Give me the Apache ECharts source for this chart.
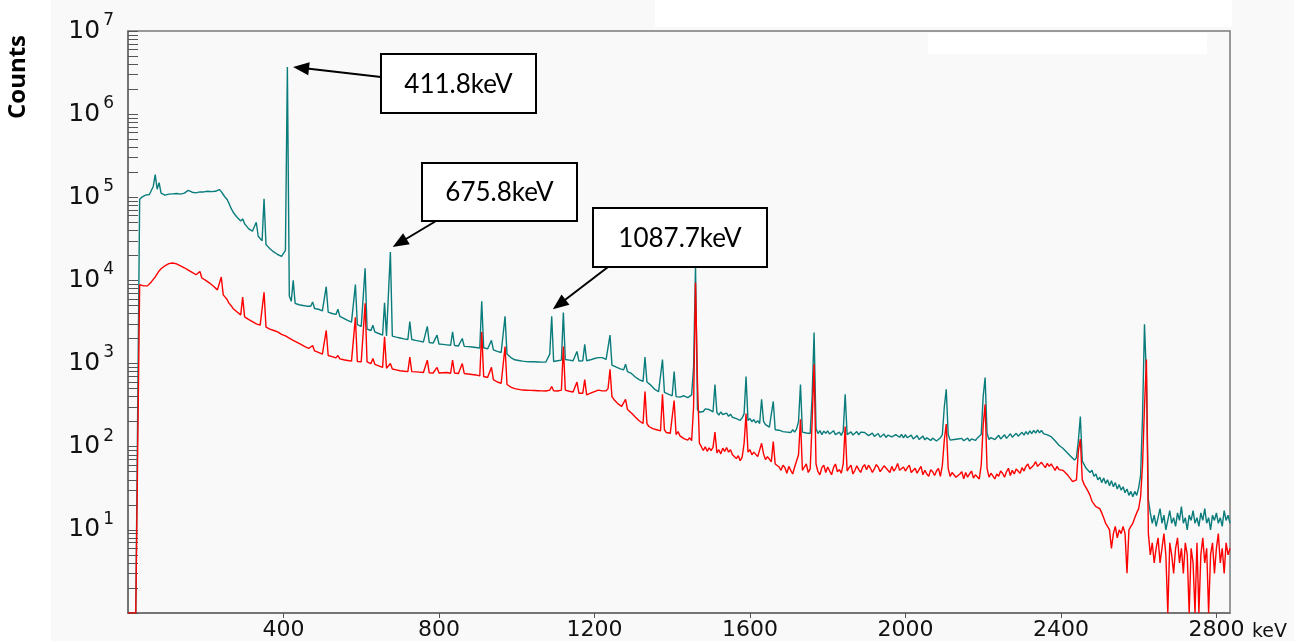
<!DOCTYPE html>
<html><head><meta charset="utf-8">
<script src="https://cdn.jsdelivr.net/npm/echarts@6/dist/echarts.min.js"></script>
<style>html,body{margin:0;padding:0;background:#fff}#c{width:1294px;height:641px}</style>
</head><body><div id="c"></div>
<script>
// Energy grid: channels every 5 keV starting at 0 keV
const keVStep = 5;
// Upper (teal) spectrum counts, one value per 5 keV channel (0 .. 2835 keV)
const tealCounts = [
1,1,1,1,1,1,94000,100000,104000,106000,107000,108000,112000,135000,187000,125000,150000,112000,107000,106000,
108000,109000,107000,110000,109000,111000,110000,109000,111000,112000,114000,121000,123000,115000,112000,113000,115000,116000,117000,116000,
118000,118000,119000,117000,117000,118000,121000,124000,117000,108000,100000,94000,84000,74000,67000,62000,58000,55000,52000,55000,
48000,45000,42000,41000,39000,40000,50000,34000,32000,30000,96000,27000,25500,24000,23000,22000,21000,20500,20000,19500,
19400,23000,3700000,6500,5600,10000,5300,5200,5100,5100,5000,4950,4900,4800,4900,5500,4600,4550,4500,4400,
4300,4250,8400,4150,4100,4000,3950,3900,4500,3700,3600,3500,3400,3300,3250,3150,3050,8900,2950,2850,
2800,2750,14000,2600,2550,2500,2900,2400,2350,2300,2250,2200,5400,2150,2150,22000,2140,2100,2080,2050,
2030,2000,1980,1960,1950,3200,1950,1930,1900,1880,1860,1840,1820,1800,2800,1790,1780,1760,1740,2200,
1720,1710,1700,1690,1680,1670,1660,2400,1650,1640,1630,1620,2000,1610,1600,1600,1590,1580,1570,1560,
1550,1540,5600,1550,1520,1500,1480,1900,1460,1420,1400,1380,1360,1340,3700,1300,1250,1180,1130,1110,
1100,1090,1080,1070,1060,1055,1050,1050,1045,1050,1040,1045,1050,1040,1050,1045,1050,1300,3700,1060,
1070,1080,1090,1100,4100,1120,1110,1100,1090,1080,1080,1400,1070,1060,1080,1700,1080,1090,1110,1130,
1150,1160,1180,1200,1180,1150,1120,1150,2200,960,940,910,890,870,860,840,980,800,780,760,
720,690,660,640,620,610,1200,600,580,550,520,490,470,460,455,1120,450,440,430,420,
410,800,400,415,395,398,410,400,390,405,420,900,14700,280,260,270,265,285,275,280,
280,262,560,258,240,262,244,236,254,232,246,226,236,218,226,208,222,250,700,206,
218,200,212,194,206,190,372,202,184,190,172,180,350,160,168,158,164,152,160,150,
158,148,160,150,164,200,560,150,158,146,154,144,400,2360,166,144,156,140,154,145,
155,142,149,156,140,146,150,137,154,428,140,146,151,138,144,152,139,150,144,148,
150,136,141,146,133,131,144,130,137,142,129,138,144,131,128,140,136,130,141,128,
140,128,133,138,124,130,136,122,125,134,121,128,133,119,127,130,117,123,128,140,
300,491,140,120,126,122,117,124,119,126,118,121,127,117,124,126,119,127,121,140,
400,680,145,122,129,133,122,127,137,124,131,139,126,134,143,130,136,145,134,140,
149,138,152,141,155,144,157,146,159,147,157,144,152,139,146,132,134,118,118,104,
108,96,100,86,90,77,81,69,74,120,230,67,64,55,58,49,52,44,47,40,
43,37,42,36,40,34,39,33,37,31,35,30,33,28,31,26,29,25,29,26,
32,45,230,2960,700,23,16,12,15,11,14,18,12,15,10,13,17,12,14,11,
16,13,19,12,14,10,15,13,17,12,14,11,16,13,18,12,14,10,15,13,
16,12,14,11,17,13,15,12
];
// Lower (red) spectrum counts, same channels
const redCounts = [
1,1,1,1,1,1,8900,8800,8600,8500,8600,9000,9600,10300,11000,12000,13000,13800,14500,15000,
15500,15900,16100,16200,16000,15800,15400,15000,14600,14200,13800,13300,12900,12500,12100,11700,11300,12800,10700,10400,
10000,9600,9300,8900,8500,8100,7700,7300,11000,6700,6300,5900,5300,5000,4600,4400,4200,4000,3850,6300,
3650,3500,3400,3300,3200,3100,3000,2950,2900,2850,7200,2750,2700,2600,2550,2500,2450,2400,2300,2250,
2200,2150,2100,2020,1950,1900,1850,1800,1750,1700,1650,1600,1560,1520,1480,1650,1420,1390,1360,1330,
1300,1280,2500,1250,1230,1210,1190,1170,1250,1140,1120,1110,1100,1090,1080,1070,1060,3600,1060,1050,
1050,1040,5300,1050,1030,1000,1150,980,960,940,920,900,2100,880,870,1000,860,850,840,830,
820,815,810,805,800,1200,800,800,795,790,790,785,780,780,1100,775,770,770,765,900,
770,780,775,770,780,770,765,1100,770,765,760,770,1000,760,755,750,745,740,735,730,
720,710,2400,700,690,680,670,900,640,620,600,590,580,570,1600,560,540,520,505,500,
495,490,485,480,482,478,480,476,478,474,476,472,474,470,472,468,470,480,530,470,
470,468,470,480,1600,480,470,465,460,455,450,600,440,430,440,640,420,430,440,450,
460,470,480,475,470,465,470,500,853,400,370,350,330,315,305,300,372,280,265,255,
250,228,232,205,210,190,460,190,175,182,165,172,160,168,155,428,160,148,156,145,
152,360,140,152,135,140,125,132,120,128,118,300,9400,600,110,100,90,100,88,97,
90,98,150,84,92,82,96,88,98,86,92,80,84,72,78,68,75,110,250,86,
92,80,86,90,76,78,110,82,70,76,80,66,115,62,64,57,52,60,56,48,
58,52,47,57,60,80,214,52,57,62,49,54,200,980,62,50,46,56,60,49,
57,51,46,56,62,50,53,48,62,175,51,56,60,47,52,59,53,49,57,61,
53,60,55,49,54,61,57,50,48,59,62,52,49,58,51,55,63,52,50,57,
51,56,60,49,47,55,48,53,58,46,52,47,44,53,50,45,51,55,44,60,
120,187,55,44,49,51,43,42,47,50,41,49,43,47,51,42,46,48,41,60,
180,324,55,43,48,50,41,47,44,51,48,43,50,55,45,52,47,54,57,48,
56,51,58,62,54,55,60,66,58,59,65,60,56,63,58,62,57,52,58,53,
54,52,50,47,44,41,38,36,40,90,123,40,35,32,29,26,22,21,19,18,
18,16,14,12,11,10,6,9,11,8,10,9,11,9,3,10,11,12,14,16,
18,25,60,300,1120,9,5,7,4,6,8,4,6,9,5,1,7,5,3,6,
8,4,6,3,7,5,1,6,4,1,7,1,5,8,4,6,1,5,7,3,
6,9,4,6,3,7,5,6
];
const xTickValues = [400, 800, 1200, 1600, 2000, 2400, 2800];
const yDecadeValues = [10, 100, 1000, 10000, 100000, 1000000, 10000000];
const annotationLabels = ['411.8keV', '675.8keV', '1087.7keV'];
const annotationPeakKeV = [411.8, 675.8, 1087.7];
const annotationPeakCounts = [3700000, 22000, 3700];

// ---- build ----
const tealData = tealCounts.map((v, i) => [i * keVStep, v]);
const redData = redCounts.map((v, i) => [i * keVStep, v]);
const yTickValues = [];
for (let e = 0; e < 7; e++) for (let m = 1; m <= 9; m++) yTickValues.push(m * Math.pow(10, e));
yTickValues.push(1e7);

const chart = echarts.init(document.getElementById('c'), null, {renderer: 'canvas'});
const option = {
  animation: false,
  backgroundColor: '#ffffff',
  grid: {left: 128, top: 31, right: 64, bottom: 27, show: true, borderColor: '#7a7a7a', borderWidth: 1.5},
  xAxis: {
    type: 'value', min: 0, max: 2835,
    splitLine: {show: false},
    axisLine: {lineStyle: {color: '#6a6a6a', width: 1.5}},
    axisTick: {customValues: xTickValues, length: 5, lineStyle: {color: '#555', width: 1}},
    axisLabel: {customValues: xTickValues, margin: 6, color: '#111', fontFamily: 'DejaVu Sans', fontSize: 22,
                formatter: v => String(v)}
  },
  yAxis: {
    type: 'log', logBase: 10, min: 1, max: 1e7,
    splitLine: {show: false},
    axisLine: {lineStyle: {color: '#6a6a6a', width: 1.5}},
    axisTick: {customValues: yTickValues, inside: true, length: 10, lineStyle: {color: '#555', width: 1}},
    axisLabel: {
      customValues: yDecadeValues, margin: 14,
      formatter: v => '{a|10}{b|' + Math.round(Math.log10(v)) + '}',
      rich: {
        a: {fontFamily: 'DejaVu Sans', fontSize: 25, lineHeight: 38, color: '#111'},
        b: {fontFamily: 'DejaVu Sans', fontSize: 17, lineHeight: 17, verticalAlign: 'top', padding: [0, 0, 0, 3], color: '#111'}
      }
    }
  },
  series: [
    {type: 'line', data: tealData, symbol: 'none', showSymbol: false, silent: true, clip: true,
     lineStyle: {color: '#0a7c7c', width: 1.4}, itemStyle: {color: '#0a7c7c'}, z: 2},
    {type: 'line', data: redData, symbol: 'none', showSymbol: false, silent: true, clip: true,
     lineStyle: {color: '#ff0000', width: 1.4}, itemStyle: {color: '#ff0000'}, z: 3}
  ]
};
chart.setOption(option);

// ---- decorations / annotations ----
const boxes = [
  {x: 381, y: 54, w: 155, h: 59, tail: [381, 77], tipOffset: [5, 0]},
  {x: 422, y: 163, w: 155, h: 58, tail: [436, 221], tipOffset: [2, -5]},
  {x: 593, y: 208, w: 174, h: 59, tail: [608, 267], tipOffset: [2, -7]}
];
const graphics = [
  {type: 'rect', z: -20, silent: true, shape: {x: 51, y: 0, width: 1243, height: 641}, style: {fill: '#f9f9f9'}},
  {type: 'rect', z: -19, silent: true, shape: {x: 655, y: 0, width: 577, height: 27}, style: {fill: '#ffffff'}},
  {type: 'rect', z: -19, silent: true, shape: {x: 928, y: 33, width: 279, height: 21}, style: {fill: '#ffffff'}},
  {type: 'text', x: 18, y: 77, rotation: Math.PI / 2, silent: true,
   style: {text: 'Counts', fontFamily: 'Open Sans', fontWeight: 'bold', fontSize: 24, fill: '#000', align: 'center', verticalAlign: 'middle'}},
  {type: 'text', x: 1252, y: 632, silent: true,
   style: {text: 'keV', fontFamily: 'DejaVu Sans', fontSize: 19, fill: '#111', align: 'left', verticalAlign: 'middle'}}
];
boxes.forEach((b, i) => {
  const p = chart.convertToPixel({gridIndex: 0}, [annotationPeakKeV[i], annotationPeakCounts[i]]);
  const tip = [p[0] + b.tipOffset[0], p[1] + b.tipOffset[1]];
  const dx = tip[0] - b.tail[0], dy = tip[1] - b.tail[1];
  const len = Math.sqrt(dx * dx + dy * dy);
  const ux = dx / len, uy = dy / len, nx = -uy, ny = ux;
  const L = 16, W = 6.5;
  const base = [tip[0] - ux * L, tip[1] - uy * L];
  graphics.push({type: 'line', z: 50, silent: true,
    shape: {x1: b.tail[0], y1: b.tail[1], x2: base[0] + ux * 2, y2: base[1] + uy * 2},
    style: {stroke: '#000', lineWidth: 2}});
  graphics.push({type: 'polygon', z: 50, silent: true,
    shape: {points: [tip, [base[0] + nx * W, base[1] + ny * W], [base[0] - nx * W, base[1] - ny * W]]},
    style: {fill: '#000'}});
  graphics.push({type: 'rect', z: 51, silent: true,
    shape: {x: b.x, y: b.y, width: b.w, height: b.h},
    style: {fill: '#fff', stroke: '#000', lineWidth: 2}});
  graphics.push({type: 'text', z: 52, silent: true, x: b.x + b.w / 2, y: b.y + b.h / 2 + 1,
    style: {text: annotationLabels[i], fontFamily: 'Lato', fontSize: 26, fill: '#000', align: 'center', verticalAlign: 'middle'}});
});
chart.setOption({graphic: graphics});
</script>
</body></html>
